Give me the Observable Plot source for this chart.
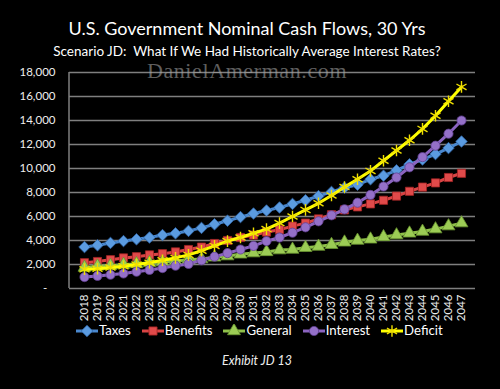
<!DOCTYPE html>
<html><head><meta charset="utf-8">
<script src="https://cdn.jsdelivr.net/npm/d3@7"></script>
<script src="https://cdn.jsdelivr.net/npm/@observablehq/plot@0.6"></script>
<style>
html,body{margin:0;padding:0;background:#000;}
#wrap{position:relative;width:500px;height:389px;background:#000;overflow:hidden;font-family:Lato,"Open Sans",sans-serif;color:#fff;}
#wrap .t{position:absolute;left:0;width:494px;text-align:center;white-space:nowrap;line-height:1;}
#chart{position:absolute;left:0;top:0;}
#legend{position:absolute;top:324px;left:76px;display:flex;align-items:center;font-size:13.2px;color:#fff;white-space:nowrap;line-height:1;}
#legend .it{display:flex;align-items:center;margin-right:11px;}
#legend svg{display:block;}
</style></head>
<body>
<div id="wrap">
  <div id="chart"></div>
  <div class="t" style="top:19px;font-size:18px;">U.S. Government Nominal Cash Flows, 30 Yrs</div>
  <div class="t" style="top:45px;font-size:13.5px;">Scenario JD:&nbsp; What If We Had Historically Average Interest Rates?</div>
  <div class="t" style="top:60px;font-family:'Liberation Serif','DejaVu Serif',serif;font-size:22px;letter-spacing:0.6px;color:rgba(160,160,160,0.6);">DanielAmerman.com</div>
  <div id="legend"></div>
  <div class="t" style="top:355px;width:514px;font-size:12.5px;font-style:italic;color:#eee;">Exhibit JD 13</div>
</div>
<script>
const years = [2018,2019,2020,2021,2022,2023,2024,2025,2026,2027,2028,2029,2030,2031,2032,2033,2034,2035,2036,2037,2038,2039,2040,2041,2042,2043,2044,2045,2046,2047];
const taxes    = [3450,3600,3800,3950,4100,4250,4450,4600,4800,5050,5350,5650,5950,6250,6500,6750,7050,7350,7700,8050,8400,8650,9100,9400,9850,10350,10750,11200,11700,12250];
const benefits = [2150,2250,2400,2550,2650,2800,2900,3050,3250,3450,3750,4000,4250,4450,4700,4900,5200,5450,5800,6150,6550,6800,7050,7350,7700,8100,8450,8800,9250,9600];
const general  = [1750,1850,1900,2000,2050,2150,2200,2300,2400,2450,2600,2700,2850,2950,3050,3200,3250,3400,3500,3650,3850,4000,4100,4300,4450,4600,4750,4950,5200,5450];
const interest = [950,1050,1150,1250,1400,1550,1700,1900,2050,2350,2650,2950,3250,3550,3950,4250,4650,5100,5600,6100,6600,7150,7800,8500,9250,10100,10950,11900,12900,14000];
const deficit  = [1600,1650,1750,1850,2000,2150,2350,2550,2800,3150,3550,3950,4250,4600,4950,5450,6000,6550,7100,7750,8450,9100,9800,10650,11500,12350,13300,14400,15600,16800];
const yTicks = [0,2000,4000,6000,8000,10000,12000,14000,16000,18000];
const seriesNames = ["Taxes","Benefits","General","Interest","Deficit"];
const seriesValues = [taxes,benefits,general,interest,deficit];

const styles = {
  Taxes:    {line:"#4a88cf", fill:"#5b9be0", stroke:"#2e64a6", symbol:"diamond2", r:5.2, sw:0.8},
  Benefits: {line:"#d84444", fill:"#e04a4a", stroke:"#a52424", symbol:"square", r:4.6, sw:0.8},
  General:  {line:"#8fc04a", fill:"#9ccc55", stroke:"#6a9630", symbol:"triangle", r:4.8, sw:0.8},
  Interest: {line:"#8b64c0", fill:"#9470c8", stroke:"#5f3f90", symbol:"circle", r:4.6, sw:0.8},
  Deficit:  {line:"#ffff00", fill:"none", stroke:"#f0e000", symbol:"asterisk", r:5.5, sw:1.4}
};

const data = [];
seriesNames.forEach((name, i) => {
  years.forEach((yr, j) => data.push({series: name, year: yr, value: seriesValues[i][j]}));
});

const leftLine = (index, scales, values, dims) => {
  const l = document.createElementNS("http://www.w3.org/2000/svg", "line");
  l.setAttribute("x1", dims.marginLeft); l.setAttribute("x2", dims.marginLeft);
  l.setAttribute("y1", dims.marginTop); l.setAttribute("y2", dims.height - dims.marginBottom);
  l.setAttribute("stroke", "#7f7f7f"); l.setAttribute("stroke-width", "1.5");
  return l;
};

const marks = [
  Plot.gridY(yTicks, {stroke: "#7f7f7f", strokeOpacity: 1, strokeWidth: 1.5}),
  leftLine,
  Plot.axisY(yTicks, {label: null, tickSize: 0, tickPadding: 14, fill: "#eee", fontSize: 11.5,
    tickFormat: d => d === 0 ? "-\u2007\u2009" : d3.format(",")(d)}),
  Plot.axisX(years, {label: null, tickSize: 0, tickPadding: 6, tickRotate: -90, fill: "#eee", fontSize: 11.5, tickFormat: d => String(d)})
];
seriesNames.forEach(name => {
  const s = styles[name];
  const rows = data.filter(d => d.series === name);
  marks.push(Plot.line(rows, {x: "year", y: "value", stroke: s.line, strokeWidth: 3, curve: "linear"}));
  marks.push(Plot.dot(rows, {x: "year", y: "value", symbol: () => s.symbol, r: s.r,
    fill: s.fill, stroke: s.stroke, strokeWidth: s.sw}));
});

const chart = Plot.plot({
  width: 500, height: 389,
  marginTop: 72, marginBottom: 101, marginLeft: 69, marginRight: 25,
  style: {background: "transparent", color: "#eee", fontFamily: "Lato, 'Open Sans', sans-serif", fontSize: "11.5px"},
  x: {type: "point", domain: years, padding: 0.5, axis: null, label: null},
  y: {domain: [0, 18000], axis: null, label: null},
  symbol: {type: "identity"},
  marks
});
document.getElementById("chart").appendChild(chart);

// legend
const leg = d3.select("#legend");
const symMap = {diamond2: d3.symbolDiamond2, square: d3.symbolSquare, triangle: d3.symbolTriangle, circle: d3.symbolCircle, asterisk: d3.symbolAsterisk};
seriesNames.forEach(name => {
  const s = styles[name];
  const it = leg.append("div").attr("class", "it");
  const svg = it.append("svg").attr("width", 22).attr("height", 14);
  svg.append("line").attr("x1", 0).attr("x2", 22).attr("y1", 7).attr("y2", 7).attr("stroke", s.line).attr("stroke-width", 3);
  svg.append("path").attr("transform", "translate(11,7)")
    .attr("d", d3.symbol().type(symMap[s.symbol]).size(Math.PI * s.r * s.r)())
    .attr("fill", s.fill).attr("stroke", s.stroke).attr("stroke-width", s.sw);
  it.append("span").text(name).style("margin-left", "1px");
});
</script>
</body></html>
